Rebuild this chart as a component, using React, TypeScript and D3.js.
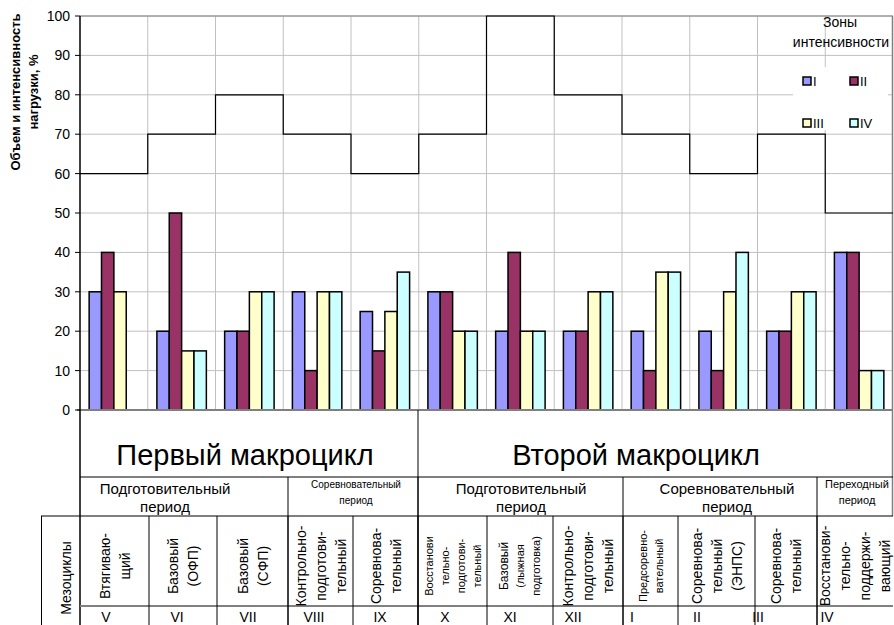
import React from "react";
import * as d3 from "d3";

// ---------- data ----------
const categories = ["V", "VI", "VII", "VIII", "IX", "X", "XI", "XII", "I", "II", "III", "IV"];
const zoneI = [30, 20, 20, 30, 25, 30, 20, 20, 20, 20, 20, 40];
const zoneII = [40, 50, 20, 10, 15, 30, 40, 20, 10, 10, 20, 40];
const zoneIII = [30, 15, 30, 30, 25, 20, 20, 30, 35, 30, 30, 10];
const zoneIV: (number | null)[] = [null, 15, 30, 30, 35, 20, 20, 30, 35, 40, 30, 10];
const loadLevel = [60, 70, 80, 70, 60, 70, 100, 80, 70, 60, 70, 50];
const yTicks = [0, 10, 20, 30, 40, 50, 60, 70, 80, 90, 100];
const seriesNames = ["I", "II", "III", "IV"];
const seriesColors = ["#9999FF", "#993366", "#FFFFCC", "#CCFFFF"];
const macroLabels = ["Первый макроцикл", "Второй макроцикл"];
const periodLabels = [
  ["Подготовительный", "период"],
  ["Соревновательный", "период"],
  ["Подготовительный", "период"],
  ["Соревновательный", "период"],
  ["Переходный", "период"],
];
const mesoLabels = [
  ["Втягиваю-", "щий"],
  ["Базовый", "(ОФП)"],
  ["Базовый", "(СФП)"],
  ["Контрольно-", "подготови-", "тельный"],
  ["Соревнова-", "тельный"],
  ["Восстанови", "тельно-", "подготови-", "тельный"],
  ["Базовый", "(лыжная", "подготовка)"],
  ["Контрольно-", "подготови-", "тельный"],
  ["Предсоревно-", "вательный"],
  ["Соревнова-", "тельный", "(ЭНПС)"],
  ["Соревнова-", "тельный"],
  ["Восстанови-", "тельно-", "поддержи-", "вающий"],
];
const yTitle = ["Объем и интенсивность", "нагрузки, %"];
const legendTitle = ["Зоны", "интенсивности"];
const mesoHeader = "Мезоциклы";

// ---------- layout ----------
const W = 894, H = 625;
const L = 80, R = 893, T = 16, B = 410;
const FONT = "'Liberation Sans', Arial, sans-serif";
const colEdges = [80, 149, 217, 288, 353, 418, 487, 553, 623, 678, 755, 817, 893];
const macroSpans = [[0, 5], [5, 12]];
const macroX = [245, 636];
const periodSpans = [[0, 3], [3, 5], [5, 8], [8, 11], [11, 12]];
const periodX = [165, 356, 521, 727, 857];
const periodFont = [15, 10, 15, 15, 11];
const mesoSmall = [false, false, false, false, false, true, true, false, true, false, false, false];
const numeralDx = [26, 28, 31, 26, 27, 27, 23, 20, 9, 19, 3, 10];
const rowMacroBottom = 477, rowPeriodBottom = 516, rowMesoBottom = 606;

export default function App() {
  const x = d3.scaleBand<string>().domain(categories).range([L, R]).paddingInner(0).paddingOuter(0);
  const bw = x.bandwidth();
  const gap = bw * 0.135;
  const xs = d3.scaleBand<string>().domain(seriesNames).range([gap, bw - gap]).padding(0);
  const y = d3.scaleLinear().domain([0, 100]).range([B, T]);
  const seriesData = [zoneI, zoneII, zoneIII, zoneIV];

  const stepPts: [number, number][] = [];
  categories.forEach((c, i) => {
    stepPts.push([x(c)!, y(loadLevel[i])]);
    stepPts.push([x(c)! + bw, y(loadLevel[i])]);
  });
  const stepPath = d3.line()(stepPts) || "";

  const lineCol = "#000";
  return (
    <svg width={W} height={H} style={{ position: "absolute", left: 0, top: 0, background: "#fff" }} fontFamily={FONT}>
      <rect x={0} y={0} width={W} height={H} fill="#fff" />
      {yTicks.map((t) => (
        <line key={"h" + t} x1={L} x2={R} y1={y(t)} y2={y(t)} stroke="#c0c0c0" strokeWidth={1} />
      ))}
      {categories.slice(1).map((c) => (
        <line key={"v" + c} x1={x(c)!} x2={x(c)!} y1={T} y2={B} stroke="#c0c0c0" strokeWidth={1} />
      ))}
      <rect x={793} y={67} width={95} height={63} fill="#fff" />
      <line x1={L} x2={R} y1={T} y2={T} stroke="#808080" strokeWidth={1} />
      <line x1={R - 0.5} x2={R - 0.5} y1={T} y2={rowPeriodBottom} stroke="#808080" strokeWidth={1.5} />
      {seriesData.map((arr, si) =>
        arr.map((v, i) =>
          v == null ? null : (
            <rect
              key={si + "-" + i}
              x={x(categories[i])! + xs(seriesNames[si])!}
              y={y(v)}
              width={xs.bandwidth()}
              height={y(0) - y(v)}
              fill={seriesColors[si]}
              stroke="#000"
              strokeWidth={1.5}
            />
          )
        )
      )}
      <path d={stepPath} fill="none" stroke="#000" strokeWidth={1.2} />
      <line x1={L - 3} x2={R} y1={B} y2={B} stroke="#808080" strokeWidth={2} />
      <line x1={L} x2={L} y1={T} y2={H} stroke="#000" strokeWidth={1.5} />
      {yTicks.map((t) => (
        <g key={"t" + t}>
          <line x1={L - 5} x2={L} y1={y(t)} y2={y(t)} stroke="#000" strokeWidth={1} />
          <text x={70} y={y(t)} dy="0.35em" textAnchor="end" fontSize={14}>
            {t}
          </text>
        </g>
      ))}
      {yTitle.map((s, i) => (
        <text
          key={s}
          transform={`translate(${15 + i * 18},92) rotate(-90)`}
          textAnchor="middle"
          dominantBaseline="central"
          fontSize={13}
          fontWeight="bold"
        >
          {s}
        </text>
      ))}
      <text x={840} y={27} textAnchor="middle" fontSize={14}>{legendTitle[0]}</text>
      <text x={841} y={47} textAnchor="middle" fontSize={14}>{legendTitle[1]}</text>
      {seriesNames.map((s, i) => {
        const lx = 803 + (i % 2) * 47;
        const ly = 77 + Math.floor(i / 2) * 42;
        return (
          <g key={"lg" + s}>
            <rect x={lx} y={ly} width={8} height={8} fill={seriesColors[i]} stroke="#000" strokeWidth={1.5} />
            <text x={lx + 10} y={ly + 4} dy="0.35em" fontSize={13}>{s}</text>
          </g>
        );
      })}

      {/* ---------- table ---------- */}
      <line x1={L} x2={R} y1={rowMacroBottom} y2={rowMacroBottom} stroke={lineCol} strokeWidth={1} />
      <line x1={41} x2={R} y1={rowPeriodBottom} y2={rowPeriodBottom} stroke={lineCol} strokeWidth={1} />
      <line x1={L} x2={R} y1={rowMesoBottom} y2={rowMesoBottom} stroke="#808080" strokeWidth={2} />
      <line x1={41.5} x2={41.5} y1={rowPeriodBottom} y2={H} stroke={lineCol} strokeWidth={1} />
      {macroSpans.slice(1).map((sp, i) => (
        <line key={"ms" + i} x1={colEdges[sp[0]]} x2={colEdges[sp[0]]} y1={B} y2={H} stroke={lineCol} strokeWidth={1} />
      ))}
      {periodSpans.slice(1).map((sp, i) => (
        <line key={"ps" + i} x1={colEdges[sp[0]]} x2={colEdges[sp[0]]} y1={rowMacroBottom} y2={H} stroke={lineCol} strokeWidth={1} />
      ))}
      {colEdges.slice(1, -1).map((e, i) => (
        <line key={"cs" + i} x1={e} x2={e} y1={rowPeriodBottom} y2={H} stroke={lineCol} strokeWidth={1} />
      ))}
      {macroLabels.map((s, i) => (
        <text key={s} x={macroX[i]} y={465} textAnchor="middle" fontSize={29}>{s}</text>
      ))}
      {periodLabels.map((lines, i) =>
        lines.map((s, j) => (
          <text
            key={i + "-" + j}
            x={periodX[i]}
            y={periodFont[i] < 12 ? 484 + j * 16 : 489 + j * 18}
            dy="0.35em"
            textAnchor="middle"
            fontSize={periodFont[i]}
          >
            {s}
          </text>
        ))
      )}
      <text transform={`translate(66,578) rotate(-90)`} textAnchor="middle" dominantBaseline="central" fontSize={14}>
        {mesoHeader}
      </text>
      {mesoLabels.map((lines, i) => {
        const cx = (colEdges[i] + colEdges[i + 1]) / 2;
        const step = mesoSmall[i] ? 16 : 20;
        const fs = mesoSmall[i] ? 11 : 14;
        return lines.map((s, j) => (
          <text
            key={i + "-" + j}
            transform={`translate(${cx + (j - (lines.length - 1) / 2) * step},566) rotate(-90)`}
            textAnchor="middle"
            dominantBaseline="central"
            fontSize={i === 6 && j === 0 ? 12 : fs}
          >
            {s}
          </text>
        ));
      })}
      {categories.map((c, i) => (
        <text key={"n" + c} x={colEdges[i] + numeralDx[i]} y={622} textAnchor="middle" fontSize={14}>
          {c}
        </text>
      ))}
    </svg>
  );
}
